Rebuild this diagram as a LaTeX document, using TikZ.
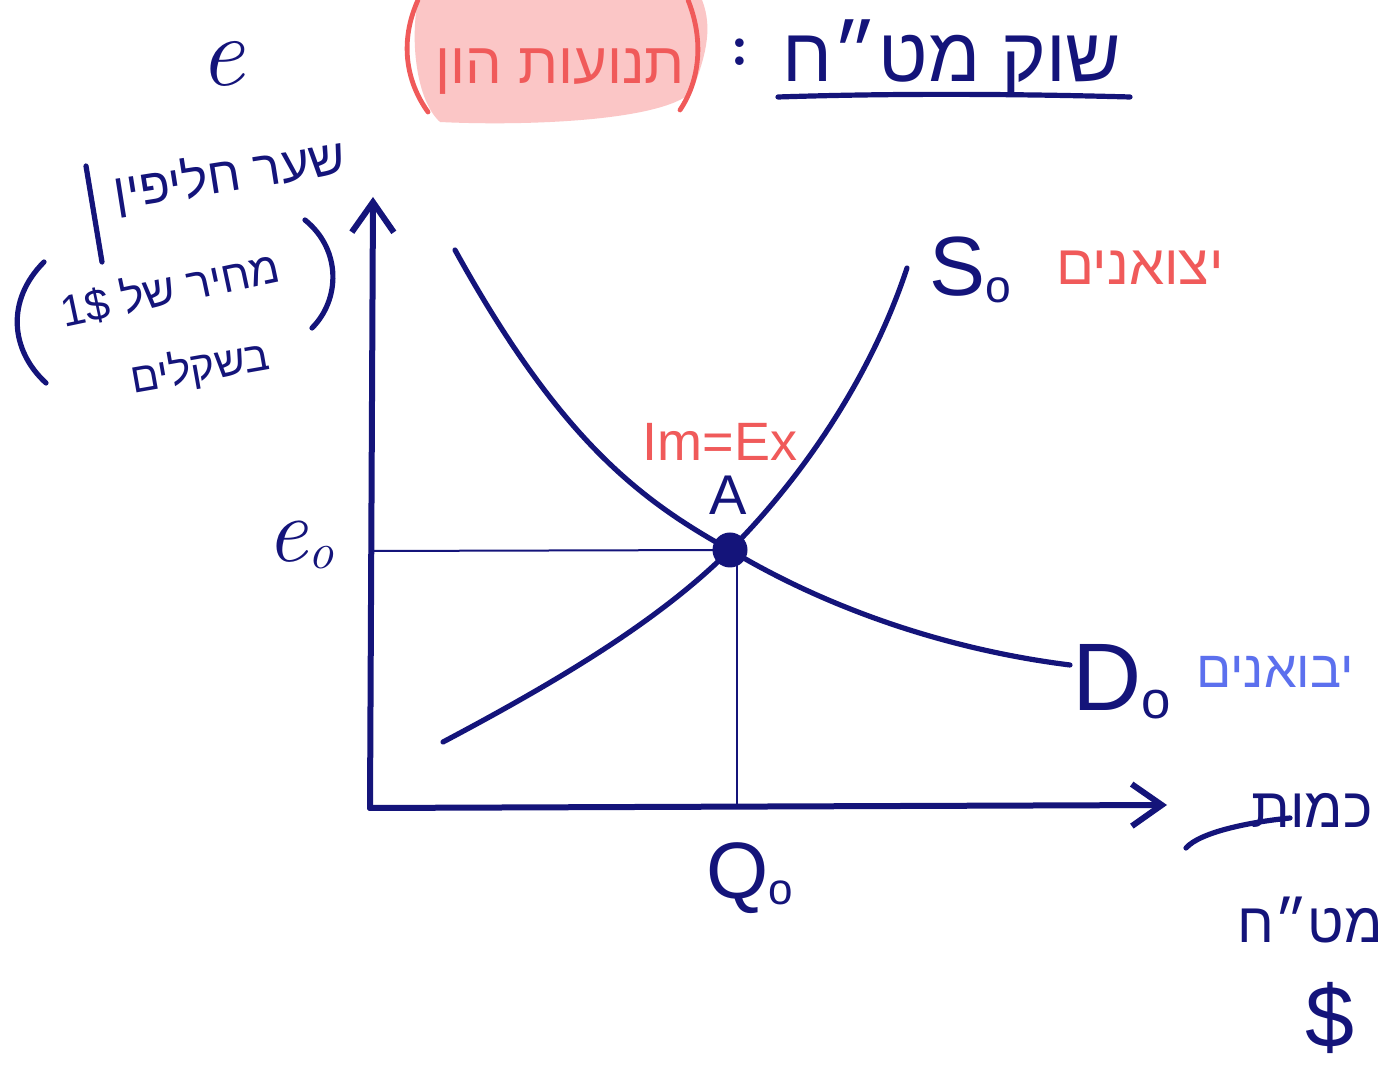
\documentclass[tikz,border=0pt]{standalone}
\usepackage{fontspec}
\setsansfont{Liberation Sans}
\newfontfamily\heb[Script=Hebrew]{Liberation Sans}
\TeXXeTstate=1
\usetikzlibrary{arrows.meta}
\definecolor{navy}{HTML}{14147A}
\definecolor{hred}{HTML}{F05A5A}
\definecolor{hpink}{HTML}{FBC6C6}
\definecolor{hblue}{HTML}{5C70EE}
\newcommand\subzero{\raisebox{-0.08em}{\scalebox{0.55}{o}}}
\tikzset{
  axis/.style={draw=navy, line width=3pt, line cap=round, -{Straight Barb[length=15pt,width=21pt,line width=3pt]}},
  curve/.style={draw=navy, line width=2.6pt, line cap=round},
  guide/.style={draw=navy, line width=1pt},
  hand/.style={draw=navy, line width=2.6pt, line cap=round},
  redhand/.style={draw=hred, line width=2.4pt, line cap=round},
  navytext/.style={text=navy, inner sep=0pt},
}
\begin{document}
\begin{tikzpicture}[x=0.5pt,y=-0.5pt]
\useasboundingbox[fill=white] (0,0) rectangle (1383,1068);

% pink highlight
\fill[hpink] (418,0) -- (702,0) .. controls (714,30) and (704,60) .. (692,92)
  .. controls (660,122) and (520,126) .. (440,122) .. controls (416,100) and (410,40) .. (418,0) -- cycle;
\draw[redhand] (418,0) .. controls (400,40) and (405,80) .. (428,112);
\draw[redhand] (688,0) .. controls (704,40) and (700,80) .. (680,110);
\node[text=hred, inner sep=0pt, font=\heb\fontsize{29}{30}\selectfont] (tnu) at (560,72) {\beginR תנועות הון\endR};

% title
\node[navytext, font=\fontsize{30}{30}\selectfont\bfseries] (colon) at (740,52) {:};
\node[navytext, font=\heb\fontsize{38}{40}\selectfont] (title) at (952,58) {\beginR שוק מט״ח\endR};
\coordinate (ul1) at (778,97);
\coordinate (ul2) at (1130,97);
\draw[hand] (ul1) .. controls (900,93) and (1020,94) .. (ul2);

% e
\node[navytext, font=\fontsize{50}{50}\selectfont\itshape] (e) at (222,64) {e};

% y-axis label
\node[navytext, rotate=9, font=\heb\fontsize{25}{26}\selectfont] (lab1) at (230,176) {\beginR שער חליפין\endR};
\coordinate (sl1) at (86,166);
\coordinate (sl2) at (102,262);
\draw[hand] (sl1) -- (sl2);
\node[navytext, rotate=12, font=\heb\fontsize{22}{24}\selectfont] (lab2) at (170,288) {\beginR מחיר של \beginL 1\$\endL\endR};
\node[navytext, rotate=10, font=\heb\fontsize{21}{24}\selectfont] (lab3) at (200,368) {\beginR בשקלים\endR};
\coordinate (lp1) at (44,262);
\coordinate (lp2) at (46,383);
\draw[hand] (lp1) .. controls (6,300) and (10,350) .. (lp2);
\coordinate (rp1) at (305,220);
\coordinate (rp2) at (312,328);
\draw[hand] (rp1) .. controls (342,250) and (340,300) .. (rp2);

% axes
\coordinate (O) at (370,808);
\coordinate (Ytop) at (373,197);
\coordinate (Xend) at (1167,805);
\draw[axis] (O) -- (Ytop);
\draw[axis] (O) -- (Xend);

% equilibrium
\node[circle, fill=navy, minimum size=17.5pt, inner sep=0pt] (A) at (730,550) {};
\coordinate (e0y) at (372,551);
\coordinate (q0a) at (737,551);
\coordinate (q0b) at (737,807);
\draw[guide] (e0y) -- (A.center);
\draw[guide] (q0a) -- (q0b);

% demand
\coordinate (D1) at (455,250);
\coordinate (D2) at (1070,665);
\draw[curve] (D1) .. controls (560,440) and (640,500) .. (A.center) .. controls (830,610) and (950,650) .. (D2);
% supply
\coordinate (S1) at (443,742);
\coordinate (S2) at (907,268);
\draw[curve] (S1) .. controls (560,680) and (660,620) .. (A.center) .. controls (800,480) and (870,380) .. (S2);

% labels
\node[navytext, font=\sffamily\fontsize{28}{28}\selectfont] (Alab) at (728,495) {A};
\node[text=hred, inner sep=0pt, font=\sffamily\fontsize{27}{27}\selectfont] (imex) at (720,442) {Im=Ex};
\node[navytext, font=\fontsize{46}{46}\selectfont\itshape] (e0) at (300,545) {e\subzero};
\node[navytext, font=\sffamily\fontsize{40}{40}\selectfont] (Q0) at (750,878) {Q\subzero};
\node[navytext, font=\sffamily\fontsize{42}{42}\selectfont] (S0) at (970,270) {S\subzero};
\node[navytext, font=\sffamily\fontsize{48}{48}\selectfont] (D0) at (1122,682) {D\subzero};
\node[text=hred, inner sep=0pt, font=\heb\fontsize{28}{30}\selectfont] (exp) at (1140,268) {\beginR יצואנים\endR};
\node[text=hblue, inner sep=0pt, font=\heb\fontsize{26}{28}\selectfont] (imp) at (1275,672) {\beginR יבואנים\endR};

% x-axis label
\node[navytext, font=\heb\fontsize{28}{30}\selectfont] (kam) at (1312,810) {\beginR כמות\endR};
\coordinate (st1) at (1186,848);
\coordinate (st2) at (1290,818);
\draw[hand] (st1) .. controls (1200,832) and (1250,822) .. (st2);
\node[navytext, font=\heb\fontsize{28}{30}\selectfont] (mth) at (1310,920) {\beginR מט״ח\endR};
\node[navytext, font=\sffamily\fontsize{44}{44}\selectfont] (dol) at (1330,1018) {\$};
\end{tikzpicture}
\end{document}
